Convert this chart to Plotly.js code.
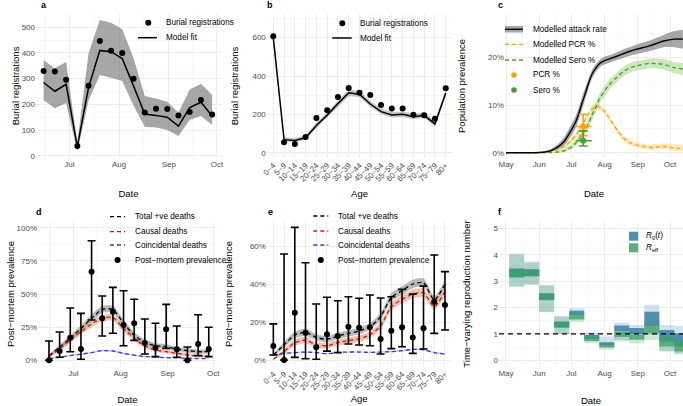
<!DOCTYPE html>
<html><head><meta charset="utf-8">
<script src="https://cdn.plot.ly/plotly-3.0.1.min.js"></script>
<style>html,body{margin:0;padding:0;background:#fff}#chart{width:683px;height:406px}</style>
</head><body><div id="chart"></div>
<script>
// ---------- data ----------
const weekDates = ['2020-06-15','2020-06-22','2020-06-29','2020-07-06','2020-07-13','2020-07-20','2020-07-27','2020-08-03','2020-08-10','2020-08-17','2020-08-24','2020-08-31','2020-09-07','2020-09-14','2020-09-21','2020-09-28'];
// panel a
const burialObs = [330, 328, 296, 38, 272, 447, 409, 400, 300, 168, 183, 182, 157, 170, 217, 160];
const burialFit = [285, 251, 278, 35, 266, 410, 405, 378, 272, 162, 157, 150, 115, 187, 208, 155];
const burialHi  = [373, 340, 366, 50, 400, 528, 518, 492, 380, 232, 223, 210, 168, 258, 280, 236];
const burialLo  = [217, 185, 205, 15, 215, 314, 304, 291, 195, 113, 110, 100, 77, 139, 155, 120];
// panel b
const ageGroups = ['0−4','5−9','10−14','15−19','20−24','25−29','30−34','35−39','40−44','45−49','50−54','55−59','60−64','65−69','70−74','75−79','80+'];
const ageObs = [607, 54, 45, 82, 181, 221, 290, 337, 313, 301, 249, 231, 231, 198, 195, 177, 336];
const ageFit = [600, 68, 64, 78, 142, 196, 256, 312, 305, 254, 214, 197, 200, 188, 195, 150, 312];
const ageHi  = [640, 80, 76, 92, 158, 212, 272, 330, 322, 270, 230, 212, 215, 203, 211, 165, 330];
const ageLo  = [565, 58, 54, 68, 128, 182, 240, 295, 290, 240, 200, 183, 186, 174, 181, 137, 295];
// panel c
const cDates = ['2020-05-01','2020-05-15','2020-06-01','2020-06-10','2020-06-17','2020-06-24','2020-07-01','2020-07-05','2020-07-08','2020-07-11','2020-07-14','2020-07-17','2020-07-20','2020-07-24','2020-07-28','2020-08-01','2020-08-05','2020-08-11','2020-08-18','2020-08-24','2020-08-31','2020-09-12','2020-09-25','2020-10-05','2020-10-13'];
const attack   = [0, 0, 0.05, 0.3, 1.0, 2.3, 4.8, 6.5, 8.3, 10.5, 12.5, 14.6, 16.4, 17.9, 18.9, 19.4, 19.7, 20.2, 20.8, 21.3, 21.8, 22.5, 23.5, 23.9, 23.9];
const attackHi = [0, 0, 0.1, 0.5, 1.5, 3.2, 6.0, 7.8, 9.6, 11.8, 13.7, 15.6, 17.3, 18.7, 19.7, 20.2, 20.5, 21.0, 21.7, 22.2, 22.8, 23.6, 24.8, 25.6, 25.9];
const attackLo = [0, 0, 0, 0.1, 0.5, 1.4, 3.6, 5.2, 7.0, 9.2, 11.3, 13.6, 15.5, 17.1, 18.1, 18.6, 18.9, 19.4, 19.9, 20.4, 20.8, 21.4, 22.2, 22.2, 21.9];
const pcrFit   = [0, 0, 0, 0.1, 0.5, 1.2, 2.6, 3.6, 4.6, 5.8, 7.0, 8.2, 9.2, 9.8, 9.5, 8.7, 7.4, 5.3, 3.2, 2.2, 1.6, 1.1, 1.3, 1.0, 0.8];
const pcrHi    = [0, 0, 0, 0.2, 0.7, 1.6, 3.2, 4.2, 5.2, 6.4, 7.6, 8.8, 9.8, 10.4, 10.1, 9.3, 8.0, 5.9, 3.8, 2.8, 2.2, 1.7, 2.0, 1.8, 1.7];
const pcrLo    = [0, 0, 0, 0.05, 0.3, 0.8, 2.0, 3.0, 4.0, 5.2, 6.4, 7.6, 8.6, 9.2, 8.9, 8.1, 6.8, 4.7, 2.6, 1.6, 1.1, 0.6, 0.7, 0.4, 0.2];
const seroFit  = [0, 0, 0, 0, 0.1, 0.4, 1.2, 2.0, 2.8, 3.8, 4.8, 6.2, 7.8, 9.7, 11.7, 13.0, 14.2, 15.6, 17.0, 17.8, 18.3, 18.8, 18.6, 17.9, 17.6];
const seroHi   = [0, 0, 0, 0.05, 0.3, 0.8, 1.8, 2.7, 3.6, 4.7, 5.8, 7.3, 8.9, 10.8, 12.8, 14.1, 15.3, 16.6, 18.0, 18.8, 19.3, 19.8, 19.7, 19.1, 18.9];
const seroLo   = [0, 0, 0, 0, 0, 0.1, 0.7, 1.4, 2.1, 2.9, 3.9, 5.1, 6.7, 8.6, 10.6, 11.9, 13.1, 14.6, 16.0, 16.8, 17.3, 17.8, 17.5, 16.7, 16.3];
const surveyDate = ['2020-07-12'];
const surveyStart = ['2020-07-05'];
const surveyEnd = ['2020-07-20'];
const pcrObs = [5.5], pcrObsHi = [8.1], pcrObsLo = [3.6];
const seroObs = [2.5], seroObsHi = [4.6], seroObsLo = [1.4];
// panel d
const pmObs = [0, 7, 17, 8.5, 66.8, 31.7, 36.7, 26.6, 27.9, 13, 9.5, 23.4, 8.3, 0, 12.3, 8.5];
const pmHi  = [14.6, 21.4, 39.4, 35.4, 90.2, 48.5, 55, 52.5, 46, 31.2, 27.9, 42.2, 25.9, 10, 34.4, 24.9];
const pmLo  = [0, 2.3, 6.5, 0.8, 30.4, 18.3, 20.4, 11, 15, 4.8, 2.8, 9, 2.3, 0, 3.5, 2.8];
const totalFit  = [3.3, 10.0, 16.6, 24.0, 31.7, 38.4, 38.4, 28.0, 19.0, 13.6, 11.0, 10.3, 8.5, 7.3, 6.5, 6.5];
const totalHi   = [4.2, 11.6, 18.8, 26.5, 34.4, 41.1, 41.1, 30.5, 21.2, 15.6, 12.8, 12.1, 10.2, 8.9, 8.1, 8.1];
const totalLo   = [2.5, 8.5, 14.6, 21.6, 29.0, 35.7, 35.7, 25.5, 16.8, 11.6, 9.2, 8.5, 6.8, 5.7, 4.9, 4.9];
const causalFit = [2.8, 8.5, 15.3, 21.5, 27.4, 31.7, 32.4, 24.0, 16.6, 10.8, 7.8, 6.5, 5.3, 4.0, 3.3, 3.3];
const causalHi  = [3.6, 10.0, 17.3, 23.8, 29.9, 34.2, 34.9, 26.3, 18.6, 12.5, 9.3, 7.9, 6.6, 5.2, 4.4, 4.4];
const causalLo  = [2.0, 7.0, 13.3, 19.2, 24.9, 29.2, 29.9, 21.7, 14.6, 9.1, 6.3, 5.1, 4.0, 2.8, 2.2, 2.2];
const coincFit  = [1.3, 2.3, 3.5, 4.6, 5.8, 7.3, 7.0, 5.3, 3.8, 2.8, 2.3, 2.0, 1.8, 1.5, 1.3, 1.3];
const coincHi   = [1.6, 2.7, 4.0, 5.1, 6.4, 8.0, 7.7, 5.9, 4.3, 3.2, 2.7, 2.3, 2.1, 1.8, 1.6, 1.6];
const coincLo   = [1.0, 1.9, 3.0, 4.1, 5.2, 6.6, 6.3, 4.7, 3.3, 2.4, 1.9, 1.7, 1.5, 1.2, 1.0, 1.0];
// panel e
const agePmObs = [7.4, 0, 24.9, 14.4, 6.7, 13.5, 12.6, 17.5, 17, 17.2, 11, 15.4, 17.2, 11.8, 16.7, 30.7, 29];
const agePmHi  = [19, 55.8, 69.8, 51.2, 29.5, 33, 31.2, 33.3, 32.5, 34.2, 32.6, 33.3, 37.2, 34.7, 38.9, 55.3, 46.5];
const agePmLo  = [2.6, 0, 1.4, 0.7, 0.4, 4.7, 3.9, 8.4, 7.9, 7.5, 3.2, 6, 7, 3.5, 5.8, 14, 15.8];
const ageTotal   = [2.6, 8.0, 13.2, 14.6, 11.9, 10.9, 12.6, 14.0, 15.3, 17.5, 22.8, 33.0, 36.5, 40.0, 40.7, 31.6, 39.8];
const ageTotalHi = [3.4, 9.5, 15.0, 16.5, 13.6, 12.5, 14.3, 15.7, 17.0, 19.3, 24.8, 35.2, 38.8, 42.3, 43.0, 33.6, 42.0];
const ageTotalLo = [1.9, 6.6, 11.5, 12.8, 10.3, 9.4, 11.0, 12.4, 13.6, 15.8, 20.9, 30.9, 34.3, 37.8, 38.5, 29.7, 37.7];
const ageCausal   = [0.4, 4.4, 9.1, 10.5, 7.9, 7.5, 9.1, 10.2, 11.2, 13.2, 17.9, 28.1, 31.9, 34.7, 35.4, 28.1, 36.0];
const ageCausalHi = [0.9, 5.8, 10.8, 12.3, 9.5, 9.0, 10.7, 11.9, 12.9, 15.0, 19.9, 30.3, 34.2, 37.0, 37.7, 30.2, 38.2];
const ageCausalLo = [0.1, 3.2, 7.5, 8.8, 6.4, 6.1, 7.6, 8.6, 9.6, 11.5, 16.0, 26.0, 29.7, 32.4, 33.1, 26.1, 33.8];
const ageCoinc   = [2.6, 3.5, 3.9, 4.2, 3.9, 3.3, 4.0, 4.2, 4.2, 4.0, 4.2, 4.4, 4.9, 5.6, 5.4, 3.9, 3.2];
const ageCoincHi = [2.9, 3.8, 4.2, 4.5, 4.2, 3.6, 4.3, 4.5, 4.5, 4.3, 4.5, 4.7, 5.3, 6.0, 5.8, 4.3, 3.6];
const ageCoincLo = [2.3, 3.2, 3.6, 3.9, 3.6, 3.0, 3.7, 3.9, 3.9, 3.7, 3.9, 4.1, 4.5, 5.2, 5.0, 3.5, 2.8];
// panel f (value holds from each date to the next)
const rDates = ['2020-05-04','2020-05-18','2020-06-01','2020-06-15','2020-06-29','2020-07-13','2020-07-27','2020-08-10','2020-08-24','2020-09-07','2020-09-21','2020-10-05','2020-10-13'];
const r0LightHi   = [4.05, 3.74, 2.85, 1.68, 1.97, 1.05, 0.90, 1.43, 1.34, 2.10, 1.34, 1.30];
const r0LightLo   = [2.80, 2.88, 1.84, 1.00, 1.55, 0.72, 0.50, 0.77, 0.80, 0.96, 0.35, 0.27];
const r0DarkHi    = [3.48, 3.45, 2.54, 1.47, 1.88, 0.96, 0.68, 1.32, 1.22, 1.84, 1.15, 1.02];
const r0DarkLo    = [3.15, 3.19, 2.29, 1.25, 1.72, 0.82, 0.57, 1.10, 1.00, 1.30, 0.71, 0.52];
const reffLightHi = [4.00, 3.70, 2.82, 1.65, 1.80, 0.98, 0.65, 1.17, 1.10, 1.53, 1.10, 0.95];
const reffLightLo = [2.79, 2.85, 1.82, 0.98, 1.45, 0.65, 0.40, 0.71, 0.64, 0.77, 0.33, 0.22];
const reffDarkHi  = [3.46, 3.43, 2.52, 1.45, 1.74, 0.88, 0.60, 1.08, 0.98, 1.36, 0.90, 0.77];
const reffDarkLo  = [3.14, 3.17, 2.27, 1.23, 1.55, 0.73, 0.48, 0.88, 0.78, 1.02, 0.52, 0.33];
// ticks
const monthTicks = ['2020-05-01','2020-06-01','2020-07-01','2020-08-01','2020-09-01','2020-10-01'];
const monthLabels = ['May','Jun','Jul','Aug','Sep','Oct'];
const midMonths = ['2020-05-16 12:00','2020-06-16','2020-07-16 12:00','2020-08-16 12:00','2020-09-16','2020-10-16 12:00'];

// ---------- helpers ----------
const W = 683, H = 406;
const PX = x => x / W, PY = y => 1 - y / H;
const FONT = 'Liberation Sans, Arial, sans-serif';
const traces = [];
function band(x, lo, hi, color, xa, ya, shape) {
  traces.push({x: x, y: lo, xaxis: xa, yaxis: ya, mode: 'lines', line: {width: 0, shape: shape || 'spline', smoothing: 0.6}, showlegend: false, hoverinfo: 'skip'});
  traces.push({x: x, y: hi, xaxis: xa, yaxis: ya, mode: 'lines', line: {width: 0, shape: shape || 'spline', smoothing: 0.6}, fill: 'tonexty', fillcolor: color, showlegend: false, hoverinfo: 'skip'});
}
// piecewise-constant band: each value holds from dates[i] to dates[i+1]
function stepX(dates) { const o = []; for (let i = 0; i < dates.length - 1; i++) { o.push(dates[i], dates[i + 1]); } return o; }
function stepY(vals) { const o = []; for (let i = 0; i < vals.length; i++) { o.push(vals[i], vals[i]); } return o; }
function stepBand(dates, lo, hi, color, xa, ya) { band(stepX(dates), stepY(lo), stepY(hi), color, xa, ya, 'linear'); }
function line(x, y, color, dash, xa, ya, width, shape) {
  traces.push({x: x, y: y, xaxis: xa, yaxis: ya, mode: 'lines', line: {color: color, width: width || 1.3, dash: dash || 'solid', shape: shape || 'spline', smoothing: 0.6}, showlegend: false, hoverinfo: 'skip'});
}
function pts(x, y, hi, lo, color, xa, ya, capw) {
  traces.push({x: x, y: y, xaxis: xa, yaxis: ya, mode: 'markers', marker: {color: color, size: 6},
    error_y: hi ? {type: 'data', symmetric: false, array: hi.map((v, i) => v - y[i]), arrayminus: lo.map((v, i) => y[i] - v), color: color, thickness: 1.6, width: capw || 4} : undefined,
    showlegend: false, hoverinfo: 'skip'});
}

// panel a
band(weekDates, burialLo, burialHi, 'rgba(95,95,95,0.55)', 'x', 'y', 'linear');
line(weekDates, burialFit, '#000', 'solid', 'x', 'y', 1.5, 'linear');
pts(weekDates, burialObs, null, null, '#000', 'x', 'y');
// panel b
band(ageGroups, ageLo, ageHi, 'rgba(95,95,95,0.35)', 'x2', 'y2', 'linear');
line(ageGroups, ageFit, '#000', 'solid', 'x2', 'y2', 1.5, 'linear');
pts(ageGroups, ageObs, null, null, '#000', 'x2', 'y2');
// panel c
band(cDates, attackLo, attackHi, 'rgba(80,80,80,0.5)', 'x3', 'y3');
band(cDates, pcrLo, pcrHi, 'rgba(255,185,50,0.32)', 'x3', 'y3');
band(cDates, seroLo, seroHi, 'rgba(110,185,70,0.35)', 'x3', 'y3');
line(cDates, pcrFit, '#f5a700', '4px,3px', 'x3', 'y3', 1.3);
line(cDates, seroFit, '#4f9c2a', '4px,3px', 'x3', 'y3', 1.3);
line(cDates, attack, '#000', 'solid', 'x3', 'y3', 1.4);
for (let i = 0; i < surveyDate.length; i++) {
  line([surveyStart[i], surveyEnd[i]], [pcrObs[i], pcrObs[i]], '#f5a700', 'solid', 'x3', 'y3', 1.6, 'linear');
  line([surveyStart[i], surveyEnd[i]], [seroObs[i], seroObs[i]], '#4f9c2a', 'solid', 'x3', 'y3', 1.6, 'linear');
}
pts(surveyDate, pcrObs, pcrObsHi, pcrObsLo, '#f5a700', 'x3', 'y3', 4.5);
pts(surveyDate, seroObs, seroObsHi, seroObsLo, '#4f9c2a', 'x3', 'y3', 4.5);
// panel d
band(weekDates, totalLo, totalHi, 'rgba(90,90,90,0.42)', 'x4', 'y4');
band(weekDates, causalLo, causalHi, 'rgba(225,110,60,0.42)', 'x4', 'y4');
band(weekDates, coincLo, coincHi, 'rgba(70,70,200,0.3)', 'x4', 'y4');
line(weekDates, totalFit, '#000', '4px,3px', 'x4', 'y4', 1.3);
line(weekDates, causalFit, '#b3261e', '4px,3px', 'x4', 'y4', 1.3);
line(weekDates, coincFit, '#3b3bc8', '4px,3px', 'x4', 'y4', 1.3);
pts(weekDates, pmObs, pmHi, pmLo, '#000', 'x4', 'y4', 4);
// panel e
band(ageGroups, ageTotalLo, ageTotalHi, 'rgba(90,90,90,0.42)', 'x5', 'y5');
band(ageGroups, ageCausalLo, ageCausalHi, 'rgba(225,110,60,0.42)', 'x5', 'y5');
band(ageGroups, ageCoincLo, ageCoincHi, 'rgba(70,70,200,0.3)', 'x5', 'y5');
line(ageGroups, ageTotal, '#000', '4px,3px', 'x5', 'y5', 1.3);
line(ageGroups, ageCausal, '#b3261e', '4px,3px', 'x5', 'y5', 1.3);
line(ageGroups, ageCoinc, '#3b3bc8', '4px,3px', 'x5', 'y5', 1.3);
pts(ageGroups, agePmObs, agePmHi, agePmLo, '#000', 'x5', 'y5', 4);
// panel f
stepBand(rDates, r0LightLo, r0LightHi, 'rgba(70,140,175,0.25)', 'x6', 'y6');
stepBand(rDates, reffLightLo, reffLightHi, 'rgba(70,165,105,0.25)', 'x6', 'y6');
stepBand(rDates, r0DarkLo, r0DarkHi, 'rgba(55,132,168,0.85)', 'x6', 'y6');
stepBand(rDates, reffDarkLo, reffDarkHi, 'rgba(60,160,100,0.75)', 'x6', 'y6');

// ---------- axes ----------
const GRID = '#ebebeb';
function baseAxis(o) {
  return Object.assign({showline: false, zeroline: false, ticks: '', showgrid: true, gridcolor: GRID, gridwidth: 0.9,
    tickfont: {family: FONT, size: 8, color: '#4d4d4d'}, fixedrange: true, layer: 'below traces'}, o);
}
function minor(vals) { return {showgrid: true, gridcolor: '#f1f1f1', gridwidth: 0.6, tickmode: 'array', tickvals: vals}; }
function xt(text, standoff) { return {text: text, standoff: standoff, font: {family: FONT, size: 9.5, color: '#000'}}; }

const layout = {
  width: W, height: H, margin: {l: 0, r: 0, t: 0, b: 0}, paper_bgcolor: '#fff', plot_bgcolor: '#fff', showlegend: false,
  font: {family: FONT},
  xaxis: baseAxis({domain: [PX(36), PX(221)], anchor: 'y', type: 'date', range: ['2020-06-10 06:00', '2020-10-03 12:00'],
    tickmode: 'array', tickvals: monthTicks, ticktext: monthLabels, minor: minor(['2020-06-15 12:00'].concat(midMonths)), title: xt('Date', 21)}),
  yaxis: baseAxis({domain: [PY(158.4), PY(13.5)], anchor: 'x', range: [-10.5, 553.7], tickmode: 'array', tickvals: [0, 100, 200, 300, 400, 500],
    minor: minor([50, 150, 250, 350, 450, 550]), title: xt('Burial registrations', 0)}),
  xaxis2: baseAxis({domain: [PX(266.8), PX(452.2)], anchor: 'y2', type: 'category', range: [-0.6, 16.6], tickangle: -45, title: xt('Age', 7)}),
  yaxis2: baseAxis({domain: [PY(158.4), PY(13.5)], anchor: 'x2', range: [-29.7, 726], tickmode: 'array', tickvals: [0, 200, 400, 600],
    minor: minor([100, 300, 500, 700]), title: xt('Burial registrations', 12)}),
  xaxis3: baseAxis({domain: [PX(505), 1], anchor: 'y3', type: 'date', range: ['2020-04-30 01:00', '2020-10-13 02:00'],
    tickmode: 'array', tickvals: monthTicks, ticktext: monthLabels, minor: minor(midMonths), title: xt('Date', 21)}),
  yaxis3: baseAxis({domain: [PY(158.4), PY(13.5)], anchor: 'x3', range: [-1.2, 29.3], tickmode: 'array', tickvals: [0, 10, 20], ticktext: ['0%', '10%', '20%'],
    minor: minor([5, 15, 25]), title: xt('Population prevalence', 20)}),
  xaxis4: baseAxis({domain: [PX(38), PX(217)], anchor: 'y4', type: 'date', range: ['2020-06-07 19:00', '2020-10-03 10:00'],
    tickmode: 'array', tickvals: monthTicks, ticktext: monthLabels, minor: minor(['2020-06-15 12:00'].concat(midMonths)), title: xt('Date', 19)}),
  yaxis4: baseAxis({domain: [PY(367), PY(221)], anchor: 'x4', range: [-5.05, 105.05], tickmode: 'array', tickvals: [0, 25, 50, 75, 100],
    ticktext: ['0%', '25%', '50%', '75%', '100%'], minor: minor([12.5, 37.5, 62.5, 87.5]), title: xt('Post−mortem prevalence', 0)}),
  xaxis5: baseAxis({domain: [PX(266.9), PX(451.4)], anchor: 'y5', type: 'category', range: [-0.6, 16.6], tickangle: -45, title: xt('Age', 4)}),
  yaxis5: baseAxis({domain: [PY(367), PY(221)], anchor: 'x5', range: [-3.68, 73.16], tickmode: 'array', tickvals: [0, 20, 40, 60],
    ticktext: ['0%', '20%', '40%', '60%'], minor: minor([10, 30, 50, 70]), title: xt('Post−mortem prevalence', 15)}),
  xaxis6: baseAxis({domain: [PX(499), 1], anchor: 'y6', type: 'date', range: ['2020-04-24 12:00', '2020-10-13 02:00'],
    tickmode: 'array', tickvals: monthTicks, ticktext: monthLabels, minor: minor(midMonths), title: xt('Date', 21)}),
  yaxis6: baseAxis({domain: [PY(367), PY(221)], anchor: 'x6', range: [-0.254, 5.277], tickmode: 'array', tickvals: [0, 1, 2, 3, 4, 5],
    minor: minor([0.5, 1.5, 2.5, 3.5, 4.5]), title: xt('Time−varying reproduction number', 21)}),
  shapes: [], annotations: []
};

// reference line R = 1
layout.shapes.push({type: 'line', xref: 'x6 domain', yref: 'y6', x0: 0, x1: 1, y0: 1, y1: 1, line: {color: '#000', width: 1.4, dash: '5px,4px'}});

// ---------- legends & panel labels ----------
function keyLine(x0, x1, y, color, dash, width) {
  layout.shapes.push({type: 'line', xref: 'paper', yref: 'paper', x0: PX(x0), x1: PX(x1), y0: PY(y), y1: PY(y), line: {color: color, width: width || 1.3, dash: dash || 'solid'}});
}
function keyRect(x0, y0, x1, y1, color) {
  layout.shapes.push({type: 'rect', xref: 'paper', yref: 'paper', x0: PX(x0), x1: PX(x1), y0: PY(y1), y1: PY(y0), fillcolor: color, line: {width: 0}});
}
function keyDot(x, y, r, color) {
  layout.shapes.push({type: 'circle', xref: 'paper', yref: 'paper', x0: PX(x - r), x1: PX(x + r), y0: PY(y + r), y1: PY(y - r), fillcolor: color, line: {width: 0}});
}
function txt(x, y, text, size, anchor) {
  layout.annotations.push({xref: 'paper', yref: 'paper', x: PX(x), y: PY(y), text: text, showarrow: false, xanchor: anchor || 'left', yanchor: 'middle',
    font: {family: FONT, size: size || 8.2, color: '#000'}});
}
// panel labels
txt(43.5, 5.5, '<b>a</b>', 9, 'center'); txt(270, 5.5, '<b>b</b>', 9, 'center'); txt(500, 5.5, '<b>c</b>', 9, 'center');
txt(39, 211.5, '<b>d</b>', 9, 'center'); txt(270, 211.5, '<b>e</b>', 9, 'center'); txt(500, 211.5, '<b>f</b>', 9, 'center');
// legend a
keyDot(148.3, 22.7, 3, '#000'); txt(164, 22.7, 'Burial registrations');
keyLine(138, 157, 37.7, '#000', 'solid', 1.5); txt(164, 37.7, 'Model fit');
// legend b
keyDot(342.3, 23.3, 3, '#000'); txt(358.3, 23.3, 'Burial registrations');
keyLine(332.3, 351.7, 38, '#000', 'solid', 1.5); txt(358.3, 38, 'Model fit');
// legend c
keyRect(505, 26, 523, 32.5, 'rgba(80,80,80,0.5)'); keyLine(505, 523, 29.3, '#000', 'solid', 1.4); txt(531, 29.3, 'Modelled attack rate');
keyLine(505, 523, 44.3, '#f5a700', '4px,3px', 1.3); txt(531, 44.3, 'Modelled PCR %');
keyLine(505, 523, 60, '#4f9c2a', '4px,3px', 1.3); txt(531, 60, 'Modelled Sero %');
keyDot(514, 75, 2.8, '#f5a700'); txt(531, 75, 'PCR %');
keyDot(514, 90, 2.8, '#4f9c2a'); txt(531, 90, 'Sero %');
// legend d
keyLine(110, 125, 216.7, '#000', '4px,3px', 1.3); txt(132.7, 216.7, 'Total +ve deaths');
keyLine(110, 125, 231.7, '#b3261e', '4px,3px', 1.3); txt(132.7, 231.7, 'Causal deaths');
keyLine(110, 125, 245, '#3b3bc8', '4px,3px', 1.3); txt(132.7, 245, 'Coincidental deaths');
keyDot(117.5, 260, 3, '#000'); txt(132.7, 260, 'Post−mortem prevalence');
// legend e
keyLine(313.3, 328.3, 216, '#000', '4px,3px', 1.3); txt(336, 216, 'Total +ve deaths');
keyLine(313.3, 328.3, 231, '#b3261e', '4px,3px', 1.3); txt(336, 231, 'Causal deaths');
keyLine(313.3, 328.3, 245, '#3b3bc8', '4px,3px', 1.3); txt(336, 245, 'Coincidental deaths');
keyDot(320.8, 260, 3, '#000'); txt(336, 260, 'Post−mortem prevalence');
// legend f
keyRect(629, 231.7, 638.3, 240.7, 'rgba(55,132,168,0.9)'); txt(644, 236.2, '<i>R</i><sub>0</sub>(<i>t</i>)');
keyRect(629, 243.3, 638.3, 252.3, 'rgba(60,160,100,0.85)'); txt(644, 247.8, '<i>R</i><sub>eff</sub>');

Plotly.newPlot('chart', traces, layout, {staticPlot: true, displayModeBar: false});
</script></body></html>
